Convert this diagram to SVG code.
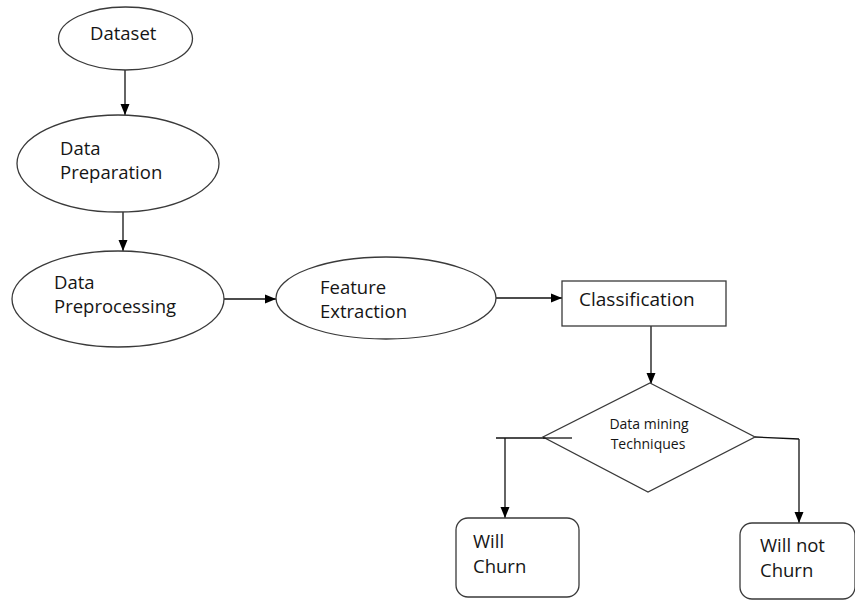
<svg xmlns="http://www.w3.org/2000/svg" width="855" height="601" viewBox="0 0 855 601">
<style>
.shape{fill:#fff;stroke:#3a3a3a;stroke-width:1.3}
.t{font-family:"Open Sans","Liberation Sans",sans-serif;font-size:18.5px;fill:#151515}
.s{font-family:"Open Sans","Liberation Sans",sans-serif;font-size:14px;fill:#151515}
.c{fill:none;stroke:#111;stroke-width:1.3}
</style>
<defs>
<marker id="ah" markerUnits="userSpaceOnUse" markerWidth="12" markerHeight="12" viewBox="0 0 12 12" refX="11" refY="6" orient="auto">
<path d="M0,1.5 L11,6 L0,10.5 Z" fill="#000"/>
</marker>
</defs>
<rect width="855" height="601" fill="#fff"/>
<g id="connectors">
<line class="c" x1="125" y1="70" x2="125" y2="115" marker-end="url(#ah)"/>
<line class="c" x1="123" y1="212" x2="123" y2="251" marker-end="url(#ah)"/>
<line class="c" x1="224" y1="299" x2="276" y2="299" marker-end="url(#ah)"/>
<line class="c" x1="496" y1="298" x2="562" y2="298" marker-end="url(#ah)"/>
<line class="c" x1="651" y1="326" x2="651" y2="384" marker-end="url(#ah)"/>
<polyline class="c" points="572,438 496,438"/>
<line class="c" x1="505" y1="438" x2="505" y2="518" marker-end="url(#ah)"/>
<polyline class="c" points="755,437 799,439"/>
<line class="c" x1="799" y1="439" x2="799" y2="523" marker-end="url(#ah)"/>
</g>
<g id="dataset">
<ellipse class="shape" cx="125.5" cy="38.5" rx="67" ry="31.5"/>
<text class="t" x="90" y="40">Dataset</text>
</g>
<g id="data-preparation">
<ellipse class="shape" cx="118" cy="163.5" rx="101" ry="48.5"/>
<text class="t" x="60" y="155">Data</text>
<text class="t" x="60" y="179">Preparation</text>
</g>
<g id="data-preprocessing">
<ellipse class="shape" cx="118" cy="299" rx="106" ry="48"/>
<text class="t" x="54" y="289">Data</text>
<text class="t" x="54" y="313">Preprocessing</text>
</g>
<g id="feature-extraction">
<ellipse class="shape" cx="386" cy="298" rx="110" ry="41"/>
<text class="t" x="320" y="294">Feature</text>
<text class="t" x="320" y="318">Extraction</text>
</g>
<g id="classification">
<rect class="shape" x="562" y="281" width="164" height="45"/>
<text class="t" x="579" y="306" style="font-size:19px">Classification</text>
</g>
<g id="data-mining">
<polygon class="shape" points="650,383 755,437 648,492 543,437"/>
<line class="c" x1="543" y1="438" x2="572" y2="438"/>
<text class="s" x="649" y="429" text-anchor="middle">Data mining</text>
<text class="s" x="648" y="449" text-anchor="middle">Techniques</text>
</g>
<g id="will-churn">
<rect class="shape" x="456" y="518" width="123" height="79" rx="12"/>
<text class="t" x="473" y="548">Will</text>
<text class="t" x="473" y="573">Churn</text>
</g>
<g id="will-not-churn">
<rect class="shape" x="740" y="523" width="115" height="76" rx="12"/>
<text class="t" x="760" y="552">Will not</text>
<text class="t" x="760" y="577">Churn</text>
</g>
</svg>
